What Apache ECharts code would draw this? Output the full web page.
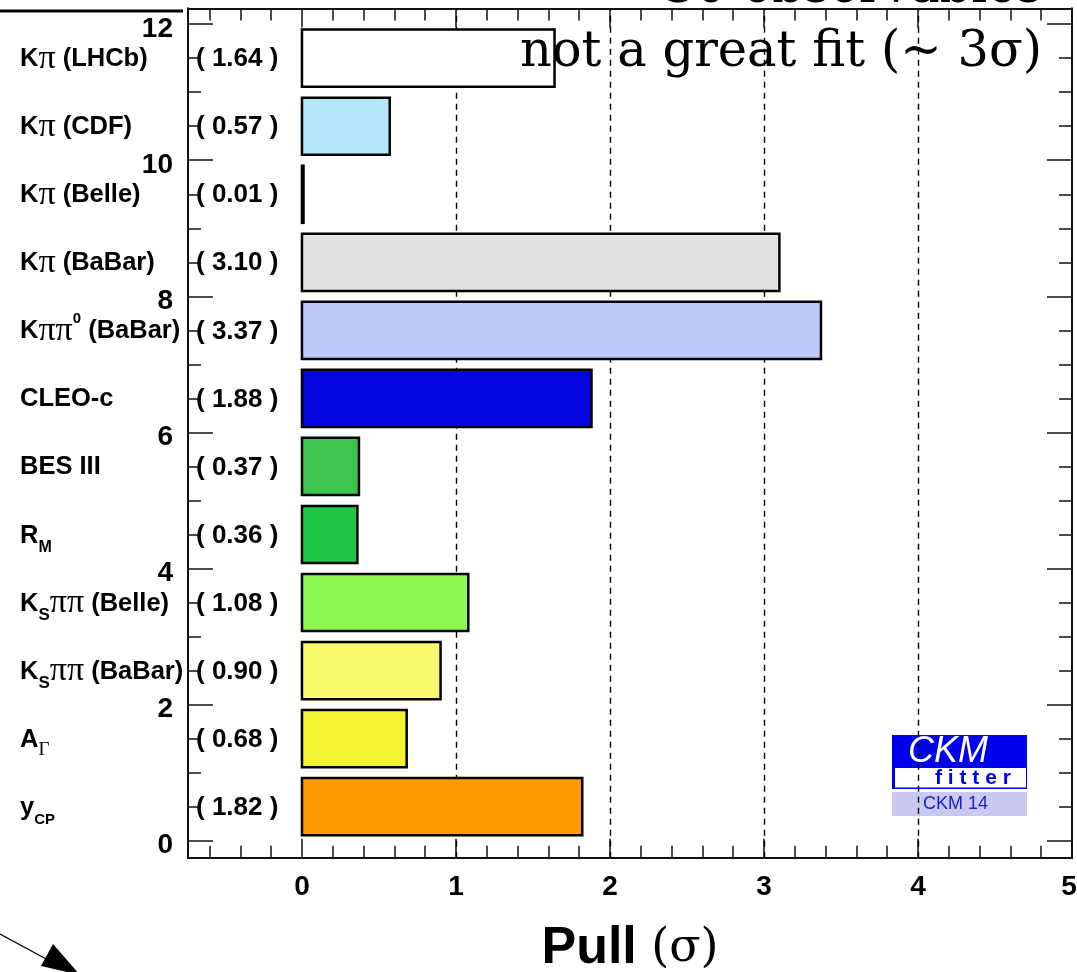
<!DOCTYPE html>
<html><head><meta charset="utf-8">
<script src="https://cdn.jsdelivr.net/npm/echarts@6/dist/echarts.min.js"></script>
<style>html,body{margin:0;padding:0;background:#fff}#c{width:1077px;height:972px}</style>
</head><body><div id="c"></div>
<script>
// ---- data (bottom to top) ----
const categories = ['y{sub|CP}', 'A{g|Γ}', 'K{subS|S}{pi|ππ} (BaBar)', 'K{subS|S}{pi|ππ} (Belle)', 'R{subM|M}', 'BES III', 'CLEO-c', 'K{pi|ππ}{sup|0} (BaBar)', 'K{pi|π} (BaBar)', 'K{pi|π} (Belle)', 'K{pi|π} (CDF)', 'K{pi|π} (LHCb)'];
const pulls = [1.82, 0.68, 0.90, 1.08, 0.36, 0.37, 1.88, 3.37, 3.10, 0.01, 0.57, 1.64];
const barColors = ['#ff9a00', '#f3f332', '#f9f96c', '#8af84e', '#1ec846', '#3cc44c', '#0505e0', '#bfc8fb', '#e2e2e2', '#ffffff', '#b4e6fa', '#ffffff'];
const xMajorTicks = [0, 1, 2, 3, 4, 5];
const yMajorTicks = [0, 2, 4, 6, 8, 10, 12];
const gridDashes = [1, 2, 3, 4];
const xMin = -0.74, xMax = 5, yMin = -0.25, yMax = 12.23;

const xMinorTicks = [];
for (let k = -3; k <= 24; k++) { const v = +(k * 0.2).toFixed(1); if (v > xMin && v < xMax && Math.abs(v - Math.round(v)) > 1e-6) xMinorTicks.push(v); }
const yMinorTicks = [];
for (let k = 0; k <= 24; k++) { const v = k * 0.5; if (v % 2 !== 0) yMinorTicks.push(v); }

const chart = echarts.init(document.getElementById('c'), null, { renderer: 'canvas' });
const lineCol = '#111';
function axis(type, pos, ticks, len, labels, extra) {
  const base = {
    type: 'value', position: pos,
    min: type === 'x' ? xMin : yMin, max: type === 'x' ? xMax : yMax,
    splitLine: { show: false },
    axisLine: { show: true, onZero: false, lineStyle: { color: lineCol, width: 2 } },
    axisTick: { show: true, inside: true, length: len, customValues: ticks, lineStyle: { color: lineCol, width: 1.5 } },
    axisLabel: labels ? Object.assign({ customValues: ticks, color: '#000', fontFamily: 'Liberation Sans', fontWeight: 'bold', fontSize: 28 }, labels) : { show: false }
  };
  return Object.assign(base, extra || {});
}

const labelRich = {
  pi: { fontFamily: 'Liberation Serif', fontWeight: 'normal', fontSize: 34, lineHeight: 40, fill: '#000' },
  sub: { fontFamily: 'Liberation Sans', fontWeight: 'bold', fontSize: 15, lineHeight: 14, verticalAlign: 'bottom', fill: '#000' },
  subS: { fontFamily: 'Liberation Sans', fontWeight: 'bold', fontSize: 17, lineHeight: 4, verticalAlign: 'bottom', fill: '#000' },
  subM: { fontFamily: 'Liberation Sans', fontWeight: 'bold', fontSize: 16, lineHeight: 23, verticalAlign: 'bottom', fill: '#000' },
  sup: { fontFamily: 'Liberation Sans', fontWeight: 'bold', fontSize: 15, lineHeight: 25, verticalAlign: 'top', fill: '#000' },
  g: { fontFamily: 'Liberation Serif', fontWeight: 'normal', fontSize: 19, lineHeight: 18, verticalAlign: 'bottom', fill: '#000' }
};

const option = {
  animation: false,
  backgroundColor: '#fff',
  grid: { left: 188, right: 5, top: 8.5, bottom: 114.3, containLabel: false, outerBoundsMode: 'none' },
  xAxis: [
    axis('x', 'bottom', xMajorTicks, 19, {
      margin: 16,
      formatter: v => (v === 5 ? '{r|5}' : String(v)),
      rich: { r: { fontFamily: 'Liberation Sans', fontWeight: 'bold', fontSize: 28, color: '#000', padding: [0, 6, 0, 0] } }
    }, {
      name: 'Pull {s|(σ)}', nameLocation: 'middle', nameGap: 65,
      nameTextStyle: { fontFamily: 'Liberation Sans', fontWeight: 'bold', fontSize: 52, color: '#000',
        rich: { s: { fontFamily: 'DejaVu Serif', fontWeight: 'normal', fontSize: 46, color: '#000' } } }
    }),
    axis('x', 'bottom', xMinorTicks, 12, null),
    axis('x', 'top', xMajorTicks, 19, null),
    axis('x', 'top', xMinorTicks, 12, null)
  ],
  yAxis: [
    axis('y', 'left', yMajorTicks, 25, {
      margin: 15, formatter: v => '{a|' + v + '}',
      rich: { a: { fontFamily: 'Liberation Sans', fontWeight: 'bold', fontSize: 28, color: '#000', padding: [10, 0, 0, 0] } }
    }),
    axis('y', 'left', yMinorTicks, 13, null),
    axis('y', 'right', yMajorTicks, 25, null),
    axis('y', 'right', yMinorTicks, 13, null)
  ],
  graphic: [
    { type: 'line', z: 10, shape: { x1: 0, y1: 11, x2: 183, y2: 11 }, style: { stroke: '#000', lineWidth: 3 } },
    { type: 'line', z: 10, shape: { x1: 0, y1: 934, x2: 48, y2: 960 }, style: { stroke: '#000', lineWidth: 1.3 } },
    { type: 'polygon', z: 10, shape: { points: [[41, 966], [53, 944], [80, 975]] }, style: { fill: '#000' } },
    { type: 'text', z: 10, x: 1042, y: 53, style: { text: 'not a great fit (~ 3σ)', font: '49.5px "DejaVu Serif"', fill: '#000', textAlign: 'right', textVerticalAlign: 'middle' } },
    { type: 'text', z: 10, x: 1042, y: -11, style: { text: '30 observables', font: '49.5px "DejaVu Serif"', fill: '#000', textAlign: 'right', textVerticalAlign: 'middle' } },
    { type: 'rect', z: 1, shape: { x: 892, y: 735, width: 135, height: 54 }, style: { fill: '#0000f0' } },
    { type: 'rect', z: 1, shape: { x: 895, y: 768, width: 131, height: 19.5 }, style: { fill: '#fff' } },
    { type: 'text', z: 1, x: 908, y: 752, style: { text: 'CKM', font: 'italic 36px "Liberation Sans"', fill: '#fff', textAlign: 'left', textVerticalAlign: 'middle' } },
    { type: 'text', z: 1, x: 935, y: 778, style: { text: 'f i t t e r', font: 'bold 21px "Liberation Sans"', fill: '#0000f0', textAlign: 'left', textVerticalAlign: 'middle' } },
    { type: 'rect', z: 1, shape: { x: 892, y: 792, width: 135, height: 24 }, style: { fill: '#c8c8f0' } },
    { type: 'text', z: 1, x: 923, y: 804, style: { text: 'CKM 14', font: '18px "Liberation Sans"', fill: '#1a1ad0', textAlign: 'left', textVerticalAlign: 'middle' } }
  ],
  series: [
    {
      type: 'line', data: [], z: 2, xAxisIndex: 0, yAxisIndex: 0,
      markLine: {
        silent: true, symbol: 'none', z: 2, animation: false,
        label: { show: false },
        lineStyle: { type: [6, 5], color: '#000', width: 1.4 },
        data: gridDashes.map(v => ({ xAxis: v }))
      }
    },
    {
      type: 'custom', z: 4, xAxisIndex: 0, yAxisIndex: 0, clip: false,
      data: pulls.map((v, i) => [v, i + 0.5, i]),
      renderItem: function (params, api) {
        const v = api.value(0), y = api.value(1), i = api.value(2);
        const p0 = api.coord([0, y + 0.42]);
        const p1 = api.coord([v, y - 0.42]);
        const cy = api.coord([0, y])[1];
        const cs = params.coordSys;
        return {
          type: 'group', children: [
            { type: 'rect', shape: { x: p0[0], y: p0[1], width: p1[0] - p0[0], height: p1[1] - p0[1] },
              style: { fill: barColors[i], stroke: '#000', lineWidth: 2.5 } },
            { type: 'text', x: cs.x + 8, y: cy + 1,
              style: { text: '( ' + pulls[i].toFixed(2) + ' )', font: 'bold 26px "Liberation Sans"', fill: '#000', textAlign: 'left', textVerticalAlign: 'middle' } },
            { type: 'text', x: 20, y: cy + 1,
              style: { text: categories[i], fontFamily: 'Liberation Sans', fontWeight: 'bold', fontSize: 25.5, lineHeight: 40, fill: '#000',
                rich: labelRich, textAlign: 'left', textVerticalAlign: 'middle' } }
          ]
        };
      }
    }
  ]
};
chart.setOption(option);
</script>
</body></html>
